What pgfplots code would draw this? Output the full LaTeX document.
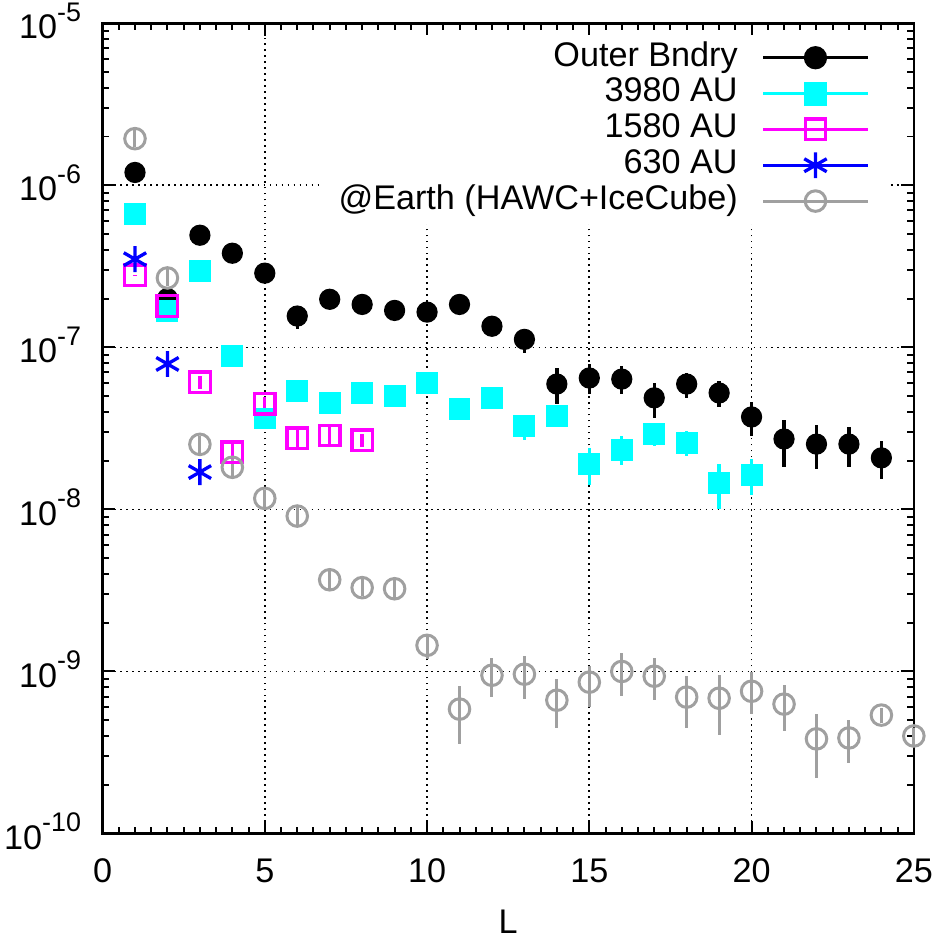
\documentclass[border=0pt]{standalone}
\usepackage{pgfplots}
\pgfplotsset{compat=1.18}
\usepackage{fontspec}
\setmainfont{Liberation Sans}
\definecolor{earthgray}{RGB}{160,160,160}
\definecolor{gpcyan}{RGB}{0,255,255}
\definecolor{gpmagenta}{RGB}{255,0,255}
\definecolor{gpblue}{RGB}{0,0,255}
\newcommand{\pw}[1]{10\raisebox{5.3pt}{\fontsize{8.1}{9}\selectfont #1}}

% x  y  y+err  y-err
\pgfplotstableread{
x y ep em
1 1.20e-6 0.10e-6 0.10e-6
2 2.00e-7 0.15e-7 0.15e-7
3 4.92e-7 0.40e-7 0.40e-7
4 3.81e-7 0.30e-7 0.30e-7
5 2.87e-7 0.25e-7 0.25e-7
6 1.56e-7 0.15e-7 0.27e-7
7 1.98e-7 0.15e-7 0.15e-7
8 1.84e-7 0.15e-7 0.15e-7
9 1.69e-7 0.15e-7 0.15e-7
10 1.65e-7 0.15e-7 0.15e-7
11 1.84e-7 0.15e-7 0.15e-7
12 1.35e-7 0.12e-7 0.12e-7
13 1.12e-7 0.12e-7 0.20e-7
14 5.94e-8 1.50e-8 1.46e-8
15 6.47e-8 1.40e-8 1.30e-8
16 6.37e-8 1.30e-8 1.20e-8
17 4.88e-8 1.15e-8 1.20e-8
18 5.94e-8 1.00e-8 1.06e-8
19 5.23e-8 0.97e-8 0.94e-8
20 3.72e-8 0.90e-8 0.90e-8
21 2.72e-8 0.84e-8 0.89e-8
22 2.53e-8 0.80e-8 0.75e-8
23 2.53e-8 0.70e-8 0.70e-8
24 2.08e-8 0.57e-8 0.53e-8
}\outerbnd

\pgfplotstableread{
x y ep em
1 6.62e-7 0.40e-7 0.40e-7
2 1.68e-7 0.10e-7 0.10e-7
3 2.96e-7 0.20e-7 0.20e-7
4 8.83e-8 0.60e-8 0.60e-8
5 3.64e-8 0.30e-8 0.30e-8
6 5.37e-8 0.40e-8 0.40e-8
7 4.54e-8 0.40e-8 0.40e-8
8 5.25e-8 0.40e-8 0.40e-8
9 5.00e-8 0.40e-8 0.40e-8
10 6.00e-8 0.50e-8 0.50e-8
11 4.17e-8 0.40e-8 0.40e-8
12 4.87e-8 0.40e-8 0.40e-8
13 3.27e-8 0.40e-8 0.60e-8
14 3.78e-8 0.50e-8 0.50e-8
15 1.91e-8 0.49e-8 0.49e-8
16 2.33e-8 0.52e-8 0.44e-8
17 2.92e-8 0.50e-8 0.45e-8
18 2.58e-8 0.47e-8 0.44e-8
19 1.46e-8 0.45e-8 0.45e-8
20 1.64e-8 0.41e-8 0.41e-8
}\auA

\pgfplotstableread{
x y ep em
1 2.79e-7 0.02e-7 0.02e-7
2 1.80e-7 0.03e-7 0.03e-7
3 6.10e-8 0.60e-8 0.60e-8
4 2.25e-8 0.45e-8 0.30e-8
5 4.48e-8 0.45e-8 0.45e-8
6 2.75e-8 0.42e-8 0.38e-8
7 2.86e-8 0.35e-8 0.35e-8
8 2.67e-8 0.25e-8 0.25e-8
}\auB

\pgfplotstableread{
x y ep em
1 3.50e-7 0 0
2 7.90e-8 0 0
3 1.70e-8 0 0
}\auC

\pgfplotstableread{
x y ep em
1 1.94e-6 0.25e-6 0.22e-6
2 2.68e-7 0.35e-7 0.30e-7
3 2.52e-8 0.33e-8 0.30e-8
4 1.82e-8 0.24e-8 0.21e-8
5 1.17e-8 0.15e-8 0.14e-8
6 9.10e-9 1.20e-9 1.10e-9
7 3.68e-9 0.48e-9 0.43e-9
8 3.29e-9 0.43e-9 0.38e-9
9 3.24e-9 0.45e-9 0.40e-9
10 1.45e-9 0.20e-9 0.25e-9
11 5.86e-10 2.25e-10 2.29e-10
12 9.48e-10 2.57e-10 2.53e-10
13 9.62e-10 2.80e-10 2.87e-10
14 6.65e-10 2.30e-10 2.17e-10
15 8.59e-10 2.17e-10 2.56e-10
16 1.00e-9 2.94e-10 2.95e-10
17 9.35e-10 2.70e-10 2.70e-10
18 6.95e-10 2.40e-10 2.47e-10
19 6.84e-10 2.64e-10 2.78e-10
20 7.55e-10 2.33e-10 2.09e-10
21 6.29e-10 1.93e-10 1.99e-10
22 3.84e-10 1.62e-10 1.63e-10
23 3.89e-10 1.12e-10 1.16e-10
24 5.38e-10 0.60e-10 0.60e-10
25 4.00e-10 0.50e-10 0.50e-10
}\earth

\begin{document}
\fontsize{10.3}{12.4}\selectfont
\begin{tikzpicture}
% page frame: axis box sits at (0,0)--(244.5pt,244.2pt)
\path[use as bounding box] (-30.9pt,-34.5pt) rectangle (253.5pt,251.2pt);
\begin{axis}[
  scale only axis,
  width=244.5pt, height=244.2pt,
  ymode=log,
  xmin=0, xmax=25, ymin=1e-10, ymax=1e-5,
  xtick={0,5,...,25}, minor x tick num=9,
  ytick={1e-10,1e-9,1e-8,1e-7,1e-6,1e-5},
  yticklabels={\pw{-10},\pw{-9},\pw{-8},\pw{-7},\pw{-6},\pw{-5}},
  /pgf/number format/assume math mode=true,
  tick align=inside,
  major tick length=3.9pt, minor tick length=2pt,
  every tick/.style={black, line width=0.6pt},
  axis line style={line width=0.8pt},
  xmajorgrids, ymajorgrids,
  major grid style={black, line width=0.5pt, dash pattern=on 0.5pt off 1.3pt},
  xticklabel style={anchor=base, yshift=-14.8pt},
  yticklabel style={anchor=base east, inner xsep=0pt, xshift=-6.3pt, yshift=-4.7pt},
  xlabel={L},
  every axis x label/.style={at={(axis description cs:0.5,0)}, anchor=center, yshift=-26.7pt},
  clip=false,
  legend plot pos=right,
  legend cell align=right,
  legend image code/.code={\draw[mark repeat=2,mark phase=2,#1]
    plot coordinates {(0pt,0pt) (15.75pt,0pt) (31.5pt,0pt)};},
  legend style={at={(rel axis cs:0.9706,0.9865)}, anchor=north east,
    draw=none, fill=white, inner xsep=6pt, inner ysep=1.5pt,
    nodes={inner sep=0pt, text height=7.9pt, text depth=2.9pt},
    /tikz/every odd column/.append style={column sep=7.2pt}},
]
\addplot[forget plot, only marks, black, mark=*, mark size=3pt,
  error bars/.cd, y dir=both, y explicit, error mark=none,
  error bar style={line width=1pt}]
  table[x=x, y=y, y error plus=ep, y error minus=em] {\outerbnd};
\addplot[forget plot, only marks, gpcyan, mark=square*, mark size=3.1pt,
  error bars/.cd, y dir=both, y explicit, error mark=none,
  error bar style={line width=1pt}]
  table[x=x, y=y, y error plus=ep, y error minus=em] {\auA};
\addplot[forget plot, only marks, gpmagenta, line width=1pt, mark=square, mark size=3.1pt,
  error bars/.cd, y dir=both, y explicit, error mark=none,
  error bar style={line width=1pt}]
  table[x=x, y=y, y error plus=ep, y error minus=em] {\auB};
\addplot[forget plot, only marks, gpblue, line width=1pt, mark=asterisk, mark size=3.9pt]
  table[x=x, y=y] {\auC};
\addplot[forget plot, only marks, earthgray, line width=0.9pt, mark=o, mark size=3.1pt,
  error bars/.cd, y dir=both, y explicit, error mark=none,
  error bar style={line width=0.9pt}]
  table[x=x, y=y, y error plus=ep, y error minus=em] {\earth};

\addlegendimage{black, line width=1pt, mark=*, mark size=3pt}
\addlegendentry{Outer Bndry}
\addlegendimage{gpcyan, line width=1pt, mark=square*, mark size=3.1pt}
\addlegendentry{3980 AU}
\addlegendimage{gpmagenta, line width=1pt, mark=square, mark size=3.1pt}
\addlegendentry{1580 AU}
\addlegendimage{gpblue, line width=1pt, mark=asterisk, mark size=3.9pt}
\addlegendentry{630 AU}
\addlegendimage{earthgray, line width=0.9pt, mark=o, mark size=3.1pt}
\addlegendentry{@Earth (HAWC+IceCube)}
\end{axis}
\end{tikzpicture}
\end{document}
